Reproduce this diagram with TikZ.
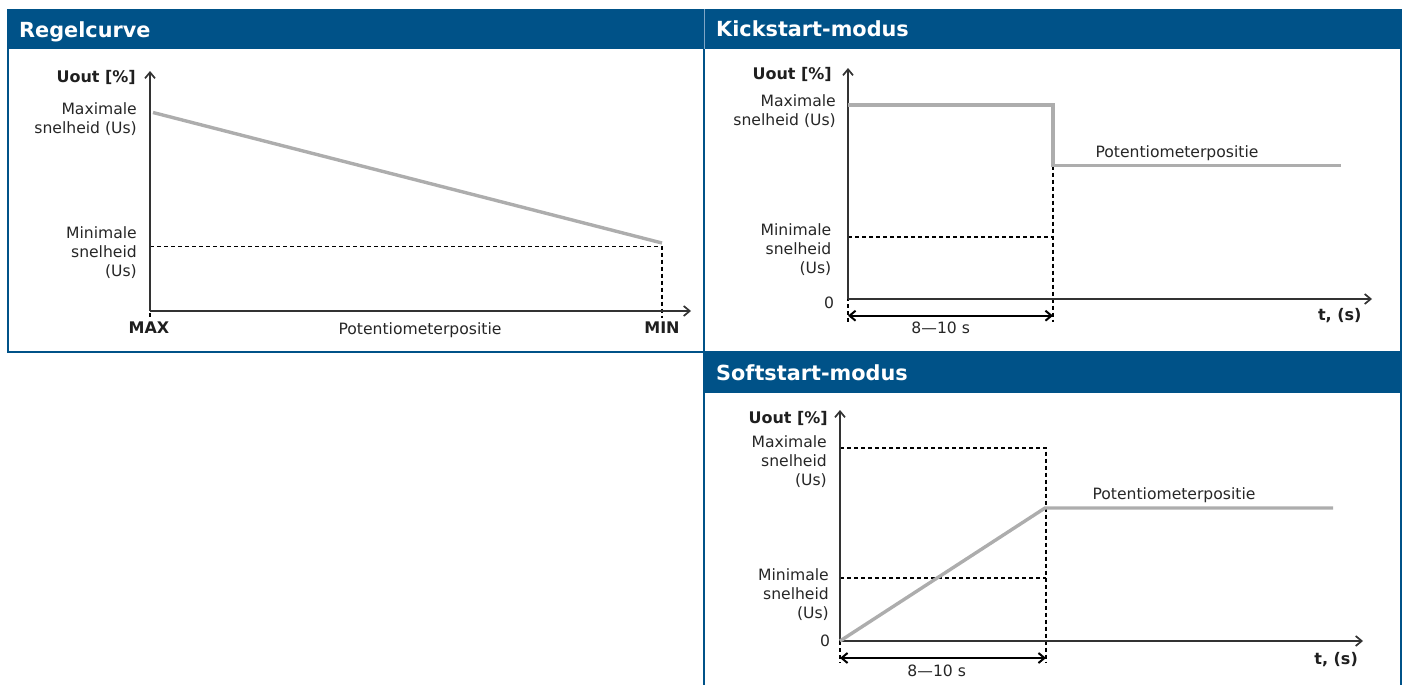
\documentclass[tikz,border=0pt]{standalone}
\usepackage{fontspec}
\setmainfont{DejaVu Sans}
\usetikzlibrary{arrows.meta}
\definecolor{hdrblue}{HTML}{005288}
\definecolor{hdrline}{HTML}{7FA6C6}
\definecolor{curvegray}{HTML}{ADADAD}
\definecolor{txt}{HTML}{262626}
\definecolor{axisc}{HTML}{333333}
\begin{document}
\begin{tikzpicture}[x=1pt,y=-1pt,
  lbl/.style={font=\fontsize{15.6}{19}\selectfont, text=txt, inner sep=0pt},
  blbl/.style={font=\fontsize{16}{19}\selectfont\bfseries, text=black!88, inner sep=0pt},
  hdr/.style={font=\fontsize{20.8}{24}\selectfont\bfseries, text=white, inner sep=0pt, anchor=base west},
  axisline/.style={draw=axisc, line width=1.7pt, -{Straight Barb[length=6pt,width=10pt]}},
  dimline/.style={draw=black, line width=2pt, {Straight Barb[length=6pt,width=10pt]}-{Straight Barb[length=6pt,width=10pt]}},
  dashline/.style={draw=black, line width=1.9pt, dash pattern=on 4pt off 3pt},
  curve/.style={draw=curvegray, line width=3.4pt},
  panelborder/.style={draw=hdrblue, line width=1.4pt},
  hdrfill/.style={fill=hdrblue, draw=none}
]
\useasboundingbox (0,0) rectangle (1404,685);

% ---------- panels ----------
\fill[hdrfill] (8,9.5) rectangle (1401,49);
\fill[hdrfill] (704,352) rectangle (1401,393);
\draw[panelborder] (8,9.5) rectangle (704,352);
\draw[panelborder] (704,9.5) rectangle (1401,352);
\draw[panelborder] (704,352) -- (704,685);
\draw[panelborder] (1401,352) -- (1401,685);
\draw[draw=hdrline, line width=1pt] (704,9.5) -- (704,49);

\node[hdr] (h1) at (19,37.5) {Regelcurve};
\node[hdr] (h2) at (716,37) {Kickstart-modus};
\node[hdr] (h3) at (716,380.5) {Softstart-modus};

% ---------- Regelcurve ----------
\coordinate (ro) at (150,311);
\coordinate (rytip) at (150,71);
\coordinate (rxtip) at (691,311);
\coordinate (rg1) at (153,112.5);
\coordinate (rg2) at (662,243);
\coordinate (rm1) at (150,246.5);
\coordinate (rm2) at (662,246.5);
\coordinate (rm3) at (662,318);
\coordinate (rl1) at (150,236);
\coordinate (rl2) at (150,318);

\draw[dashline] (rl1) -- (rl2);
\draw[dashline] (rm1) -- (rm2) -- (rm3);
\draw[axisline] (ro) -- (rytip);
\draw[axisline] (ro) -- (rxtip);
\draw[curve] (rg1) -- (rg2);

\node[blbl, anchor=base east] (ruout) at (136,82) {Uout [\%]};
\node[lbl, anchor=base east] (rmax1) at (137,114) {Maximale};
\node[lbl, anchor=base east] (rmax2) at (137,133) {snelheid (Us)};
\node[lbl, anchor=base east] (rmin1) at (137,238.5) {Minimale};
\node[lbl, anchor=base east] (rmin2) at (137,257.5) {snelheid};
\node[lbl, anchor=base east] (rmin3) at (137,276.5) {(Us)};
\node[blbl, anchor=base] (rmaxl) at (149,333.5) {MAX};
\node[blbl, anchor=base] (rminl) at (662,333.5) {MIN};
\node[lbl, anchor=base] (rpot) at (420,334) {Potentiometerpositie};

% ---------- Kickstart ----------
\coordinate (ko) at (848,299);
\coordinate (kytip) at (848,68);
\coordinate (kxtip) at (1372,299);
\coordinate (kg1) at (848,105);
\coordinate (kg2) at (1053,105);
\coordinate (kg3) at (1053,165.5);
\coordinate (kg4) at (1341,165.5);
\coordinate (km1) at (848,236.7);
\coordinate (km2) at (1053,236.7);
\coordinate (kr2) at (1053,322);
\coordinate (kl1) at (848,227);
\coordinate (kl2) at (848,322);
\coordinate (kd1) at (848,315.7);
\coordinate (kd2) at (1053,315.7);

\draw[dashline] (kl1) -- (kl2);
\draw[dashline] (km1) -- (km2);
\draw[dashline] (kg3) -- (kr2);
\draw[axisline] (ko) -- (kytip);
\draw[axisline] (ko) -- (kxtip);
\draw[curve, line join=miter] (kg1) -- (kg2) -- (kg3) -- (kg4);
\draw[dimline] (kd1) -- (kd2);

\node[blbl, anchor=base east] (kuout) at (832,79.5) {Uout [\%]};
\node[lbl, anchor=base east] (kmax1) at (836,106.5) {Maximale};
\node[lbl, anchor=base east] (kmax2) at (836,125.5) {snelheid (Us)};
\node[lbl, anchor=base east] (kmin1) at (831.5,235.5) {Minimale};
\node[lbl, anchor=base east] (kmin2) at (831.5,254.5) {snelheid};
\node[lbl, anchor=base east] (kmin3) at (831.5,273.5) {(Us)};
\node[lbl, anchor=base] (kzero) at (829,308.5) {0};
\node[lbl, anchor=base] (kdim) at (940.7,333.5) {8—10 s};
\node[blbl, anchor=base east] (kt) at (1361.7,320.5) {t, (s)};
\node[lbl, anchor=base] (kpot) at (1177,157.5) {Potentiometerpositie};

% ---------- Softstart ----------
\coordinate (so) at (840,641);
\coordinate (sytip) at (840,410);
\coordinate (sxtip) at (1363,641);
\coordinate (sg2) at (1045,508);
\coordinate (sg3) at (1333,508);
\coordinate (sM1) at (840,447.7);
\coordinate (sM2) at (1046,447.7);
\coordinate (sM3) at (1046,663);
\coordinate (sm1) at (840,578);
\coordinate (sm2) at (1046,578);
\coordinate (sl2) at (840,663);
\coordinate (sd1) at (840,658);
\coordinate (sd2) at (1046,658);

\draw[dashline] (so) -- (sl2);
\draw[dashline] (sM1) -- (sM2) -- (sM3);
\draw[dashline] (sm1) -- (sm2);
\draw[axisline] (so) -- (sytip);
\draw[axisline] (so) -- (sxtip);
\draw[curve] (so) -- (sg2) -- (sg3);
\draw[dimline] (sd1) -- (sd2);

\node[blbl, anchor=base east] (suout) at (828,423.7) {Uout [\%]};
\node[lbl, anchor=base east] (smax1) at (827,447.7) {Maximale};
\node[lbl, anchor=base east] (smax2) at (827,466.7) {snelheid};
\node[lbl, anchor=base east] (smax3) at (827,485.7) {(Us)};
\node[lbl, anchor=base east] (smin1) at (829,580.7) {Minimale};
\node[lbl, anchor=base east] (smin2) at (829,599.7) {snelheid};
\node[lbl, anchor=base east] (smin3) at (829,618.7) {(Us)};
\node[lbl, anchor=base] (szero) at (825,646) {0};
\node[lbl, anchor=base] (sdim) at (936.7,676) {8—10 s};
\node[blbl, anchor=base east] (st) at (1358,664.5) {t, (s)};
\node[lbl, anchor=base] (spot) at (1174,499.7) {Potentiometerpositie};
\end{tikzpicture}
\end{document}
